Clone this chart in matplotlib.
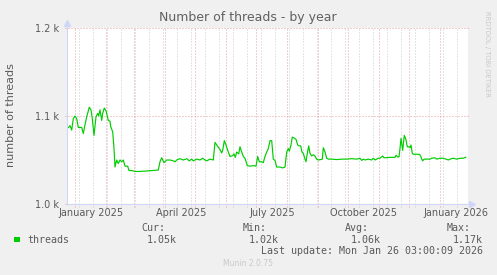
import datetime as dt
import numpy as np
import matplotlib
matplotlib.use("Agg")
import matplotlib.pyplot as plt
from matplotlib.patches import Rectangle

# ---------------- data (days since 2025-01-01, thread count) ----------------
days = [-8.6, -6.8, -5.3, -3.6, -2.0, -0.3, 1.4, 3.0, 6.4, 8.0, 9.7, 11.4, 14.0, 15.7,
        17.0, 18.7, 20.7, 22.4, 23.4, 24.7, 26.4, 27.4, 29.0, 30.7, 33.0, 34.7, 35.4,
        37.4, 38.7, 39.7, 41.4, 43.0, 44.7, 46.4, 48.0, 49.7, 52.4, 53.7, 56.4, 59.7,
        64.7, 71.4, 76.7, 83.0, 84.7, 86.4, 88.7, 91.4, 94.7, 98.0, 99.7, 101.4, 104.7,
        108.0, 111.4, 114.0, 116.4, 118.0, 121.4, 124.7, 127.4, 129.7, 131.4, 134.7,
        138.0, 139.7, 142.0, 144.7, 146.4, 147.4, 149.0, 150.7, 152.4, 154.7, 157.4,
        158.7, 160.0, 161.4, 163.4, 164.7, 166.4, 168.0, 169.7, 172.0, 174.7, 178.0,
        180.7, 182.4, 184.0, 186.4, 188.0, 189.7, 191.4, 193.0, 194.7, 196.4, 198.0,
        199.7, 201.4, 204.7, 207.4, 209.7, 211.4, 213.0, 214.0, 215.7, 217.0, 218.7,
        220.7, 222.4, 224.0, 225.4, 226.7, 228.0, 229.7, 230.7, 232.0, 233.4, 234.7,
        236.4, 238.0, 239.7, 241.4, 243.0, 245.4, 247.0, 248.0, 249.7, 251.4, 253.0,
        256.4, 261.4, 266.4, 271.4, 276.4, 281.4, 284.7, 286.4, 288.0, 289.7, 293.0,
        296.4, 298.0, 299.7, 301.4, 303.0, 304.7, 307.4, 308.7, 314.7, 319.7, 320.7,
        322.4, 323.7, 324.7, 325.7, 327.4, 329.0, 330.7, 332.0, 333.7, 334.7, 335.7,
        337.0, 338.0, 341.4, 344.0, 345.4, 346.4, 347.4, 348.7, 354.7, 356.4, 359.7,
        361.4, 364.7, 368.0, 370.7, 373.0, 374.7, 378.0, 381.4, 384.7, 388.0, 390.4]
threads = [1086, 1087, 1089, 1084, 1097, 1100, 1097, 1087, 1087, 1080, 1090, 1099, 1110, 1107,
           1097, 1078, 1099, 1103, 1100, 1107, 1095, 1103, 1109, 1106, 1095, 1094, 1088,
           1082, 1063, 1042, 1050, 1046, 1050, 1048, 1050, 1043, 1043, 1038, 1038, 1037,
           1037, 1037.5, 1038, 1038.6, 1048, 1052.6, 1047, 1050, 1050, 1049, 1048, 1050, 1051.5,
           1050, 1051.5, 1049, 1051, 1049, 1051, 1050, 1052, 1050, 1049, 1051,
           1050, 1070, 1066, 1062, 1058, 1061, 1072, 1067, 1061, 1054, 1055,
           1057, 1053, 1059, 1057, 1065, 1059, 1054, 1052, 1043.6, 1043, 1043.6,
           1043, 1054, 1048, 1048, 1047, 1054, 1059, 1063, 1072, 1072, 1051,
           1049.5, 1042, 1042, 1041, 1042, 1059, 1063, 1060, 1067, 1076, 1075,
           1073.5, 1067, 1066, 1066, 1059, 1057.6, 1051, 1048, 1057.6, 1066, 1057.6,
           1054.5, 1056, 1054.5, 1051, 1050, 1050.5, 1051, 1064, 1059, 1052, 1051,
           1051, 1050.5, 1051, 1051, 1051.5, 1051, 1052, 1049.5, 1051, 1050, 1051,
           1050, 1052, 1050, 1051, 1052, 1052, 1054.5, 1052.5, 1053, 1053, 1055.3,
           1053.5, 1053.5, 1063, 1074.6, 1061, 1078, 1073, 1065, 1065, 1064, 1067,
           1057.6, 1056.5, 1056.5, 1056.5, 1054.5, 1051, 1049, 1051, 1051, 1052, 1052.5,
           1051, 1052, 1052, 1051, 1050, 1051, 1052, 1051, 1052, 1052, 1053]

y_ticks = [1000, 1100, 1200]
y_tick_labels = ["1.0 k", "1.1 k", "1.2 k"]
x_label_months = [(2025, 1), (2025, 4), (2025, 7), (2025, 10), (2026, 1)]
x_labels = ["January 2025", "April 2025", "July 2025", "October 2025", "January 2026"]

legend_cols = ["Cur:", "Min:", "Avg:", "Max:"]
legend_vals = ["1.05k", "1.02k", "1.06k", "1.17k"]
series_name = "threads"
last_update = "Last update: Mon Jan 26 03:00:09 2026"

# ---------------- figure ----------------
W, H = 497, 275
fig = plt.figure(figsize=(W / 100, H / 100), dpi=100, facecolor="#f0f0f0")

def fx(px):
    return px / W

def fy(py):
    return 1 - py / H

ax_l, ax_r, ax_t, ax_b = 67, 468, 28, 204
ax = fig.add_axes([fx(ax_l), fy(ax_b), fx(ax_r - ax_l), (ax_b - ax_t) / H])
ax.set_facecolor("white")

origin = dt.date(2025, 1, 1)
def day_of(y, m, d=1):
    return (dt.date(y, m, d) - origin).days

x0, x1 = -8.3, 392.7
ax.set_xlim(x0, x1)
ax.set_ylim(1000, 1200)

RED = "#e6a0a0"
GREY = "#cccccc"
AXC = "#CFD6F8"
FONTC = "#5a5a5a"
DOT = (0, (1, 2))
grid_kw = dict(lw=0.72, ls=DOT, clip_on=False)

# minor (biweekly) grid
d = day_of(2025, 1, 5)
while d < x1:
    ax.axvline(d, ymin=-0.017, ymax=1, color=GREY, zorder=1, **grid_kw)
    d += 14
# major (monthly) grid
y, m = 2025, 1
while day_of(y, m) < x1:
    ax.axvline(day_of(y, m), ymin=-0.017, ymax=1, color=RED, zorder=1.1, **grid_kw)
    m += 1
    if m > 12:
        m, y = 1, y + 1
for yt in y_ticks:
    ax.axhline(yt, xmin=-0.006, xmax=1, color=RED, zorder=1.1, **grid_kw)

# data line
ax.plot(days, threads, color="#00cc00", lw=0.85, zorder=3, solid_joinstyle="round")

# axes lines and arrows
for s in ax.spines.values():
    s.set_visible(False)
ax.plot([0, 0], [0, 1.03], transform=ax.transAxes, color=AXC, lw=0.8, clip_on=False, zorder=4)
ax.plot([0, 1.012], [0, 0], transform=ax.transAxes, color=AXC, lw=0.8, clip_on=False, zorder=4)
ax.plot([0], [1.028], transform=ax.transAxes, marker="^", ms=4.5, color=AXC, mec=AXC,
        clip_on=False, zorder=4)
ax.plot([1.009], [0], transform=ax.transAxes, marker=">", ms=4.5, color=AXC, mec=AXC,
        clip_on=False, zorder=4)

# ticks
ax.set_yticks(y_ticks)
ax.set_yticklabels(y_tick_labels)
ax.set_xticks([day_of(yy, mm) + 15.5 for yy, mm in x_label_months])
ax.set_xticklabels(x_labels)
ax.tick_params(axis="both", length=0, labelsize=7, labelcolor=FONTC)
ax.tick_params(axis="y", pad=6)
ax.tick_params(axis="x", pad=3)

# title / labels
fig.text(fx(248), fy(18), "Number of threads - by year", ha="center", va="center",
         fontsize=9, color="#606060")
fig.text(fx(11), fy(115), "number of threads", ha="center", va="center", rotation=90,
         fontsize=8, color=FONTC)
fig.text(fx(487.5), fy(54), "RRDTOOL / TOBI OETIKER", ha="center", va="center", rotation=270,
         fontsize=4.9, color="#c8c8c8")

# legend
fig.patches.append(Rectangle((fx(14), fy(242.3)), fx(5.5), 5.5 / H, transform=fig.transFigure,
                             facecolor="#00cc00", edgecolor="none"))
mono = dict(family="DejaVu Sans Mono", fontsize=7.2, color=FONTC, va="center")
fig.text(fx(27), fy(240), series_name, ha="left", **mono)
col_x = [141, 243, 345, 447]
for cx, lab, val in zip(col_x, legend_cols, legend_vals):
    fig.text(fx(cx), fy(228), lab, ha="left", **mono)
    fig.text(fx(cx + 6), fy(240), val, ha="left", **mono)
fig.text(fx(261), fy(251), last_update, ha="left", **mono)
fig.text(fx(248), fy(264), "Munin 2.0.75", ha="center", va="center", fontsize=5.5,
         color="#c8c8c8")

fig.savefig("out.png", dpi=100, facecolor=fig.get_facecolor())
